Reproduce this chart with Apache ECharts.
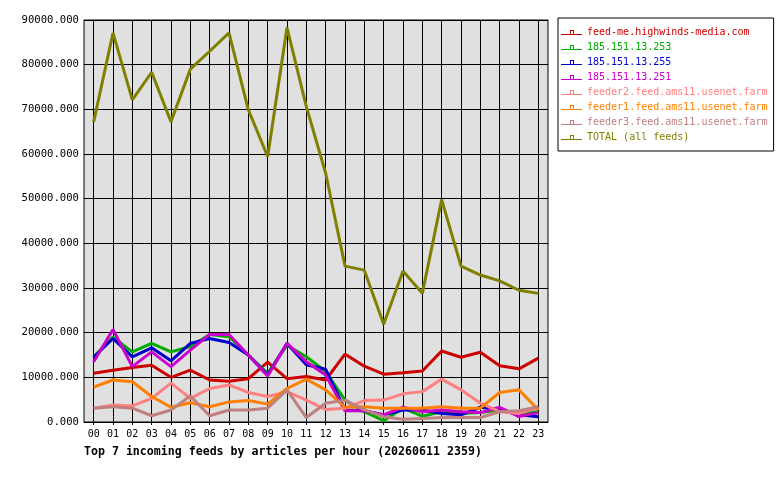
<!DOCTYPE html>
<html>
<head>
<meta charset="utf-8">
<script src="https://cdn.jsdelivr.net/npm/echarts@6/dist/echarts.min.js"></script>
<style>
  html, body { margin: 0; padding: 0; background: #fff; }
  #feeds { width: 780px; height: 480px; }
</style>
</head>
<body>
<div id="feeds"></div>
<script>
  // hours 00..23
  const hours = ['00','01','02','03','04','05','06','07','08','09','10','11',
                 '12','13','14','15','16','17','18','19','20','21','22','23'];

  const feedNames = [
    'feed-me.highwinds-media.com',
    '185.151.13.253',
    '185.151.13.255',
    '185.151.13.251',
    'feeder2.feed.ams11.usenet.farm',
    'feeder1.feed.ams11.usenet.farm',
    'feeder3.feed.ams11.usenet.farm',
    'TOTAL (all feeds)'
  ];
  const feedColors = ['#cc0000','#00aa00','#0000cc','#cc00cc','#ff8080','#ff8000','#c08080','#808000'];

  const highwinds = [10900,11600,12200,12700,10000,11600,9400,9100,9700,13400,9700,10200,
                     9400,15200,12500,10700,11000,11400,15900,14500,15600,12600,11900,14300];
  const ip253 = [14600,19000,15700,17600,15700,16900,19600,19100,15000,10900,17200,14600,
                 11300,4900,2300,300,3100,1300,2300,1900,2100,2700,1900,2300];
  const ip255 = [14500,18700,14600,16600,13700,17600,18700,17800,15000,10500,17600,12800,
                 11800,2700,2500,1600,2700,2700,1900,1600,3300,2700,1600,1200];
  const ip251 = [13500,20700,12400,15700,12400,16100,19600,19600,15000,10300,17600,13500,
                 10500,2500,2500,1600,3300,2300,2700,2300,2100,3300,1200,2100];
  const feeder2 = [3100,3800,3600,5300,8700,5300,7500,8300,6600,5700,6800,4900,
                   2800,3100,4800,4900,6300,6800,9600,7200,4200,2300,1900,3300];
  const feeder1 = [7800,9400,9000,5700,3300,4300,3400,4500,4800,4000,7500,9600,
                   7200,3300,3400,3100,3100,3100,3400,3100,3100,6600,7200,2700];
  const feeder3 = [3100,3400,3100,1400,2700,5800,1400,2700,2700,3100,7200,1000,
                   4200,4900,2700,1200,600,800,1000,1000,1000,2300,2500,3400];
  const total = [67200,87100,72100,78300,67200,79000,83000,87100,69900,59400,88300,70600,
                 55700,34900,34000,21900,33800,28800,49800,34900,32900,31600,29500,28800];

  const feedValues = [highwinds, ip253, ip255, ip251, feeder2, feeder1, feeder3, total];

  const yTicks = [0,10000,20000,30000,40000,50000,60000,70000,80000,90000];
  const hourIdx = hours.map(function (h, i) { return i; });

  const mono = 'DejaVu Sans Mono';
  const chart = echarts.init(document.getElementById('feeds'));

  const series = feedNames.map(function (name, k) {
    return {
      name: name,
      type: 'line',
      symbol: 'none',
      animation: false,
      color: feedColors[k],
      lineStyle: { width: 3, color: feedColors[k] },
      data: feedValues[k].map(function (v, i) { return [i, v]; })
    };
  });

  const options = {
    animation: false,
    backgroundColor: '#ffffff',
    title: {
      text: 'Top 7 incoming feeds by articles per hour (20260611 2359)',
      left: 84,
      top: 446,
      padding: 0,
      textStyle: { fontFamily: mono, fontSize: 11.6, fontWeight: 'bold', color: '#000' }
    },
    legend: {
      orient: 'vertical',
      left: 558,
      top: 18,
      padding: [7, 6, 6, 3],
      itemGap: 0,
      itemWidth: 21,
      itemHeight: 6,
      borderColor: '#000',
      borderWidth: 1,
      backgroundColor: '#fff',
      icon: 'path://M0,5H9V1H13V5H21V6H0Z M10,2V5H12V2Z',
      itemStyle: { borderWidth: 0 },
      data: feedNames.map(function (name, k) {
        return { name: name, textStyle: { color: feedColors[k] } };
      }),
      textStyle: { fontFamily: mono, fontSize: 10, lineHeight: 15 }
    },
    grid: {
      left: 84,
      top: 20,
      right: 232,
      bottom: 58,
      show: true,
      backgroundColor: '#e0e0e0',
      borderColor: '#000',
      borderWidth: 1
    },
    xAxis: {
      type: 'value',
      min: -0.5,
      max: 23.5,
      axisLine: { show: true, lineStyle: { color: '#000', width: 1 } },
      axisTick: { show: true, length: 3, customValues: hourIdx, lineStyle: { color: '#000' } },
      splitLine: { show: true, lineStyle: { color: '#000', width: 1 } },
      axisLabel: {
        margin: 7,
        customValues: hourIdx,
        fontFamily: mono,
        fontSize: 10,
        color: '#000',
        formatter: function (v) { return hours[v]; }
      }
    },
    yAxis: {
      type: 'value',
      min: yTicks[0],
      max: yTicks[yTicks.length - 1],
      interval: 10000,
      axisLine: { show: true, lineStyle: { color: '#000', width: 1 } },
      axisTick: { show: true, length: 4, lineStyle: { color: '#000' } },
      splitLine: { show: true, lineStyle: { color: '#000', width: 1 } },
      axisLabel: {
        margin: 5,
        fontFamily: mono,
        fontSize: 10.6,
        color: '#000',
        formatter: function (v) { return v.toFixed(3); }
      }
    },
    series: series
  };

  chart.setOption(options, true);
</script>
</body>
</html>
